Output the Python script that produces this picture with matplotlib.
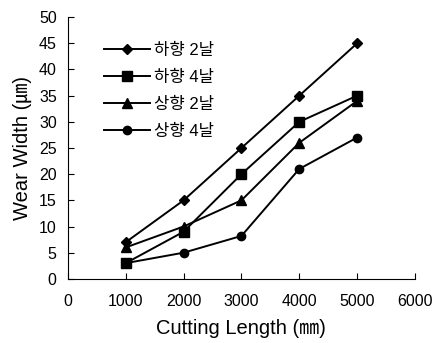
# Wear width vs cutting length
import matplotlib.pyplot as plt

plt.rcParams['font.family'] = ['Liberation Sans', 'Noto Sans CJK KR', 'DejaVu Sans']

# Data
length = [1000, 2000, 3000, 4000, 5000]
down_2 = [7, 15, 25, 35, 45]
down_4 = [3, 9, 20, 30, 35]
up_2 = [6, 10, 15, 26, 34]
up_4 = [3, 5, 8.2, 21, 27]
labels = ['하향 2날', '하향 4날', '상향 2날', '상향 4날']
x_ticks = [0, 1000, 2000, 3000, 4000, 5000, 6000]
y_ticks = [0, 5, 10, 15, 20, 25, 30, 35, 40, 45, 50]

fig = plt.figure(figsize=(4.35, 3.43), dpi=100)
ax = fig.add_axes([0.156, 0.187, 0.798, 0.763])

series = [down_2, down_4, up_2, up_4]
markers = ['D', 's', '^', 'o']
sizes = [5.5, 6.5, 7, 6]
for ys, m, ms, lab in zip(series, markers, sizes, labels):
    ax.plot(length, ys, color='black', lw=1.4, marker=m, ms=ms, label=lab)

ax.set_xlim(0, 6000)
ax.set_ylim(0, 50)
ax.set_xticks(x_ticks)
ax.set_yticks(y_ticks)
ax.tick_params(direction='in', length=4, width=0.8, labelsize=11.5)
ax.tick_params(axis='x', pad=11)
ax.tick_params(axis='y', pad=8)
for s in ['top', 'right']:
    ax.spines[s].set_visible(False)
ax.spines['left'].set_linewidth(0.8)
ax.spines['bottom'].set_linewidth(0.8)

ax.set_xlabel('Cutting Length (㎜)', fontsize=14.5, labelpad=7)
ax.set_ylabel('Wear Width (㎛)', fontsize=14.5, labelpad=5)

ax.legend(loc='upper left', bbox_to_anchor=(0.06, 0.96), frameon=False,
          handlelength=2.8, handletextpad=0.2, labelspacing=0.72, fontsize=12)

fig.savefig('out.png', dpi=100)
